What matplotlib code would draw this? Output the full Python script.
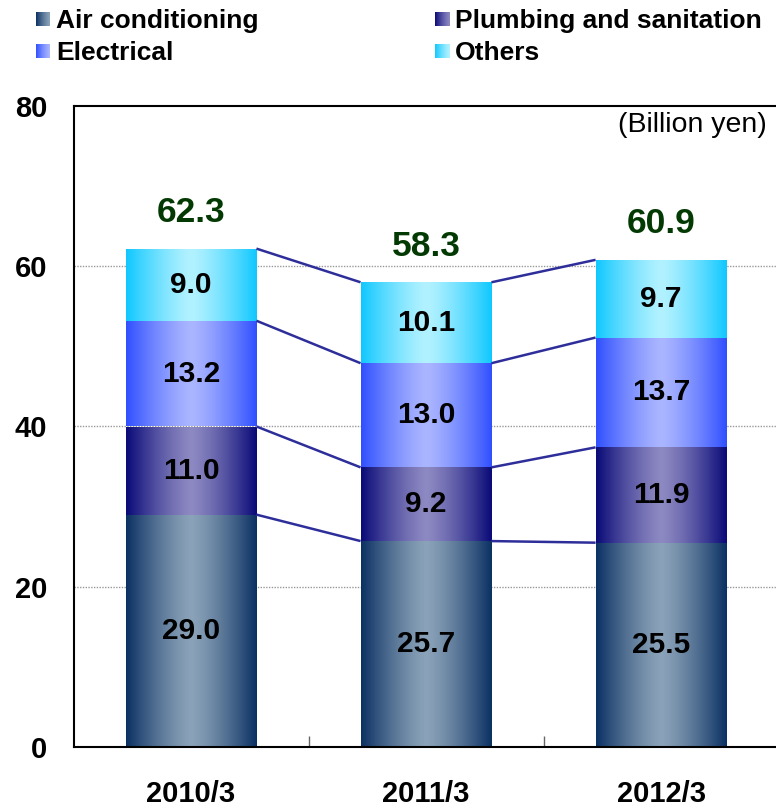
import numpy as np
import matplotlib
matplotlib.use("Agg")
import matplotlib.pyplot as plt
from matplotlib.colors import to_rgb

plt.rcParams['font.family'] = ['Liberation Sans', 'DejaVu Sans']

# Sales by segment (Billion yen)
periods = ['2010/3', '2011/3', '2012/3']
segments = ['Air conditioning', 'Plumbing and sanitation', 'Electrical', 'Others']
air_conditioning = [29.0, 25.7, 25.5]
plumbing = [11.0, 9.2, 11.9]
electrical = [13.2, 13.0, 13.7]
others = [9.0, 10.1, 9.7]
totals = [62.3, 58.3, 60.9]
y_ticks = [0, 20, 40, 60, 80]

# (edge colour, centre colour) of the horizontal gradient of each segment
seg_colors = [('#0b3163', '#8ba3b9'),
              ('#0a0a78', '#8d89c2'),
              ('#3050ff', '#abb6ff'),
              ('#10c8ff', '#b2f2ff')]


def gradient_img(edge, centre, n=200, legend=False):
    e = np.array(to_rgb(edge))
    c = np.array(to_rgb(centre))
    x = np.linspace(0, 1, n)
    if legend:
        t = 1 - x
    else:
        t = np.abs(x - 0.5) * 2
    t = t ** 1.3
    img = c[None, :] + (e - c)[None, :] * t[:, None]
    return img[None, :, :]


fig = plt.figure(figsize=(7.76, 8.09), dpi=100)
ax = fig.add_axes([73.5 / 776, 62 / 809, 705 / 776, 641 / 809])

x = np.arange(len(periods))
width = 0.557
series = [air_conditioning, plumbing, electrical, others]
bottom = np.zeros(len(periods))
tops = []
for vals, (edge, centre) in zip(series, seg_colors):
    bars = ax.bar(x, vals, width, bottom=bottom, color='none', edgecolor='none', zorder=2)
    for rect, v, b in zip(bars, vals, bottom):
        x0 = rect.get_x()
        im = ax.imshow(gradient_img(edge, centre), extent=[x0, x0 + width, b, b + v],
                       aspect='auto', interpolation='bilinear', zorder=2)
        im.set_clip_path(rect)
        ax.text(x0 + width / 2, b + v / 2, f'{v:.1f}', ha='center', va='center',
                fontsize=21.5, fontweight='bold', color='black', zorder=4)
    bottom = bottom + np.array(vals)
    tops.append(bottom.copy())

# lines joining the segment boundaries of neighbouring bars
for level in tops:
    for i in range(len(periods) - 1):
        ax.plot([x[i] + width / 2, x[i + 1] - width / 2], [level[i], level[i + 1]],
                color='#2e2e9a', lw=1.8, zorder=3, solid_capstyle='butt')

for xi, tot, top in zip(x, totals, tops[-1]):
    ax.text(xi, top + 3.3, f'{tot:.1f}', ha='center', va='baseline',
            fontsize=25.5, fontweight='bold', color='#033a03', zorder=4)

ax.set_xlim(-0.5, 2.5)
ax.set_ylim(0, 80)
ax.set_yticks(y_ticks)
ax.set_yticklabels([str(v) for v in y_ticks], fontsize=21, fontweight='bold')
ax.tick_params(axis='y', length=0, pad=19)
ax.set_xticks(x)
ax.set_xticklabels(periods, fontsize=21, fontweight='bold')
ax.tick_params(axis='x', which='major', length=0, pad=24)
ax.set_xticks([0.5, 1.5], minor=True)
ax.tick_params(axis='x', which='minor', direction='in', length=8, width=1, color='#666666')

for yv in [20, 40, 60]:
    ax.axhline(yv, color='#999999', lw=1, ls=(0, (1, 1)), zorder=1)

for side in ['left', 'bottom', 'top']:
    ax.spines[side].set_linewidth(1.5)
ax.spines['right'].set_visible(False)

fig.text(767 / 776, 1 - 132 / 809, '(Billion yen)', ha='right', va='baseline', fontsize=20.5)

# legend with gradient swatches
legend_pos = [(36, 12), (435, 12), (36, 44), (435, 44)]
for name, (edge, centre), (px, py) in zip(segments, seg_colors, legend_pos):
    sw = fig.add_axes([px / 776, 1 - (py + 14) / 809, 14 / 776, 14 / 809])
    sw.imshow(gradient_img(edge, centre, legend=True), aspect='auto', interpolation='bilinear')
    sw.axis('off')
    fig.text((px + 20) / 776, 1 - (py + 16) / 809, name, ha='left', va='baseline',
             fontsize=19, fontweight='bold')

fig.savefig('out.png', dpi=100)
